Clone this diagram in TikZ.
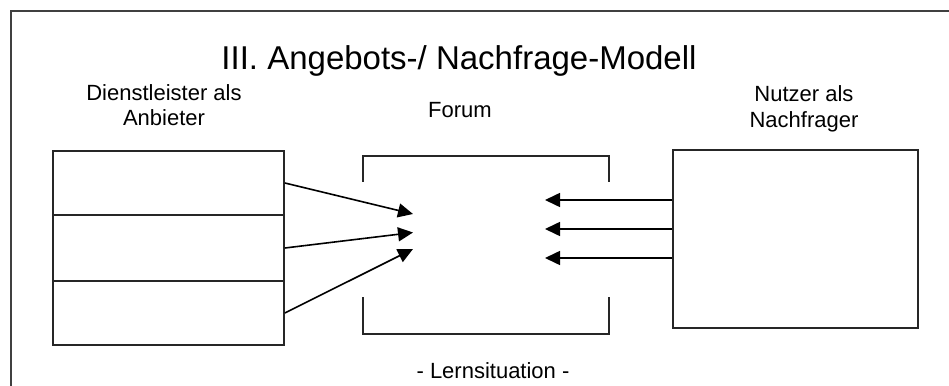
\documentclass[tikz,border=0pt]{standalone}
\usepackage{fontspec}
\setmainfont{Liberation Sans}
\usetikzlibrary{arrows.meta}

\tikzset{
  frameline/.style={draw=black!75, line width=1.6pt},
  boxline/.style={draw=black!85, line width=1.8pt},
  cell/.style={boxline, rectangle, minimum width=231pt, inner sep=0pt},
  flow/.style={draw=black, line width=1.6pt, -{Triangle[length=15pt,width=14pt]}},
  label/.style={font=\fontsize{22}{25}\selectfont, align=center, inner sep=0pt, anchor=base},
  heading/.style={font=\fontsize{33}{40}\selectfont, inner sep=0pt, anchor=base}
}

\begin{document}
\begin{tikzpicture}[x=1pt, y=-1pt]
  \useasboundingbox (0,0) rectangle (949,385);
  \fill[white] (0,0) rectangle (949,385);

  % outer frame, running past the page on the right and bottom
  \begin{scope}
    \clip (0,0) rectangle (949,385);
    \draw[frameline] (11,11) rectangle (970,400);
  \end{scope}

  % headings (multi-line labels are anchored at their last baseline)
  \node[heading] (title) at (459,70) {III. Angebots-/ Nachfrage-Modell};
  \node[label] (provlabel) at (164,125) {Dienstleister als\\Anbieter};
  \node[label] (forumlabel) at (460,117.5) {Forum};
  \node[label] (userlabel) at (804,127) {Nutzer als\\Nachfrager};
  \node[label] (situation) at (493,378) {- Lernsituation -};

  % providers: three stacked cells
  \node[cell, minimum height=64pt] (cellA) at (168.5,183) {};
  \node[cell, minimum height=66pt] (cellB) at (168.5,248) {};
  \node[cell, minimum height=64pt] (cellC) at (168.5,313) {};

  % users
  \node[boxline, rectangle, minimum width=245pt, minimum height=178pt, inner sep=0pt] (users) at (795.5,239) {};

  % forum: open brackets at top and bottom
  \node[rectangle, minimum width=246pt, minimum height=178pt, inner sep=0pt] (forum) at (486,245) {};
  \draw[boxline] ([yshift=-26pt]forum.north west) -- (forum.north west) -- (forum.north east) -- ([yshift=-26pt]forum.north east);
  \draw[boxline] ([yshift=37pt]forum.south west) -- (forum.south west) -- (forum.south east) -- ([yshift=37pt]forum.south east);

  % arrow tips inside the forum
  \coordinate (inA) at (413,214);
  \coordinate (inB) at (413,232.5);
  \coordinate (inC) at (413,249);
  \coordinate (outA) at (545,200);
  \coordinate (outB) at (545,229);
  \coordinate (outC) at (545,258);
  \coordinate (srcA) at (users.west |- outA);
  \coordinate (srcB) at (users.west |- outB);
  \coordinate (srcC) at (users.west |- outC);

  \draw[flow] (cellA.east) -- (inA);
  \draw[flow] (cellB.east) -- (inB);
  \draw[flow] (cellC.east) -- (inC);
  \draw[flow] (srcA) -- (outA);
  \draw[flow] (srcB) -- (outB);
  \draw[flow] (srcC) -- (outC);
\end{tikzpicture}
\end{document}
